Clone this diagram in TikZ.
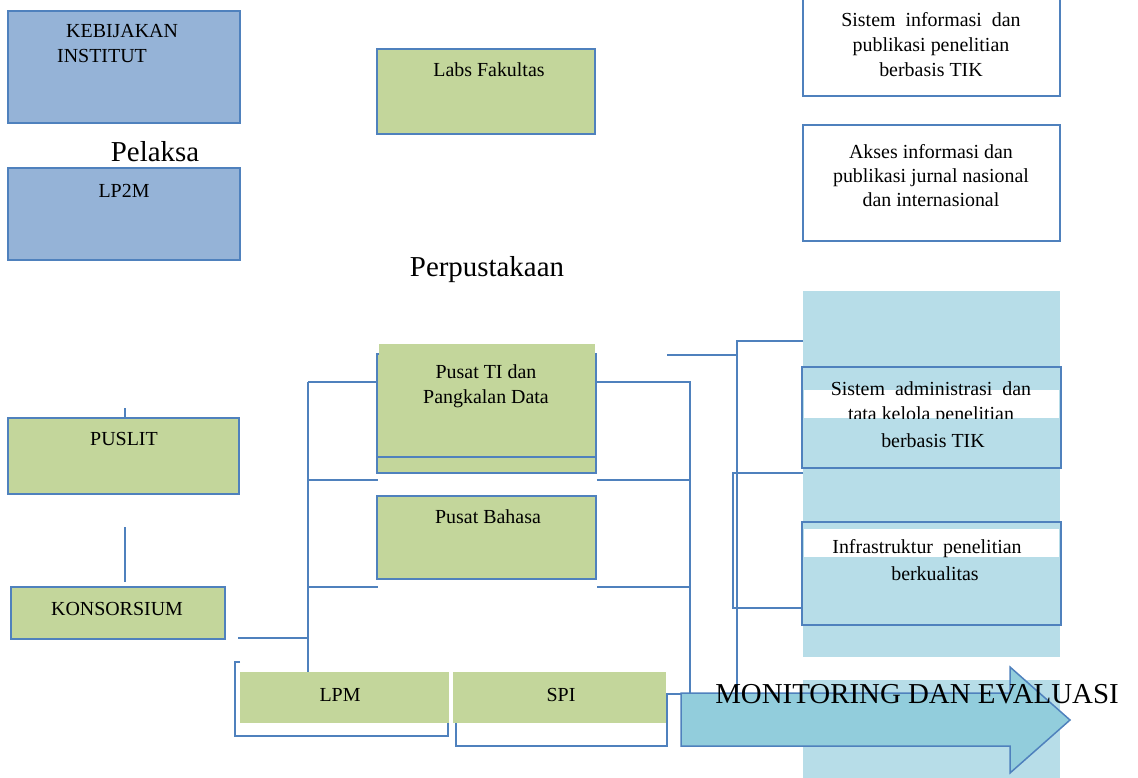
\documentclass[tikz,border=0pt]{standalone}
\usepackage{fontspec}
\setmainfont{Liberation Serif}
\definecolor{bdr}{HTML}{4F81BD}
\definecolor{bfill}{HTML}{95B3D7}
\definecolor{gfill}{HTML}{C3D69B}
\definecolor{lbfill}{HTML}{B7DDE8}
\definecolor{arrfill}{HTML}{92CDDC}
\tikzset{
 box/.style={draw=bdr, line width=1.5bp, inner sep=0pt, outer sep=0pt},
 bluebox/.style={box, fill=bfill},
 greenbox/.style={box, fill=gfill},
 plaingreen/.style={fill=gfill, inner sep=0pt, outer sep=0pt},
 whitebox/.style={box, fill=white},
 lightbox/.style={box, fill=lbfill},
 conn/.style={draw=bdr, line width=1.5bp},
 txt/.style={inner sep=0pt, anchor=base, font=\fontsize{20}{24}\selectfont},
 bigtxt/.style={inner sep=0pt, anchor=base, font=\fontsize{29}{34}\selectfont},
}
\begin{document}
\begin{tikzpicture}[x=1bp,y=-1bp]
\useasboundingbox (0,0) rectangle (1138,778);
\clip (0,0) rectangle (1138,778);
% light blue background column
\fill[lbfill] (803,291) rectangle (1060,657);
\fill[lbfill] (803,680) rectangle (1060,778);
% boxes
\node[bluebox, minimum width=232bp, minimum height=112bp] (keb) at (124,67) {};
\node[bluebox, minimum width=232bp, minimum height=92bp] (lp2m) at (124,214) {};
\node[greenbox, minimum width=218bp, minimum height=85bp] (labs) at (486,91.5) {};
\node[whitebox, minimum width=257bp, minimum height=99bp] (sisinfo) at (931.5,46.5) {};
\node[whitebox, minimum width=257bp, minimum height=116bp] (akses) at (931.5,183) {};
\node[lightbox, minimum width=259bp, minimum height=101bp] (sisadm) at (931.5,417.5) {};
\fill[white] (804,390) rectangle (1059,418);
\node[lightbox, minimum width=259bp, minimum height=103bp] (infra) at (931.5,573.5) {};
\fill[white] (804,529) rectangle (1059,557);
\node[greenbox, minimum width=231bp, minimum height=76bp] (puslit) at (123.5,456) {};
\node[greenbox, minimum width=214bp, minimum height=52bp] (konsor) at (118,613) {};
\node[greenbox, minimum width=219bp, minimum height=119bp] (pusatti) at (486.5,413.5) {};
\fill[gfill] (378.5,344) rectangle (594.5,457);
\draw[conn] (377,457) -- (596,457);
\node[greenbox, minimum width=219bp, minimum height=83bp] (bahasa) at (486.5,537.5) {};
\node[plaingreen, minimum width=209bp, minimum height=51bp] (lpm) at (344.5,697.5) {};
\node[plaingreen, minimum width=213bp, minimum height=51bp] (spi) at (559.5,697.5) {};
% connectors
\coordinate (c1) at (125,527);
\coordinate (c2) at (125,582);
\coordinate (k1) at (238,638);
\coordinate (vL1) at (308,382);
\coordinate (vL2) at (308,480);
\coordinate (vL3) at (308,587);
\coordinate (vL4) at (308,638);
\coordinate (hL1) at (377,382);
\coordinate (hL2) at (378,480);
\coordinate (hL3) at (378,587);
\coordinate (hR1) at (596,382);
\coordinate (hR2) at (597,480);
\coordinate (hR3) at (597,587);
\coordinate (vR1) at (690,382);
\coordinate (vR2) at (690,480);
\coordinate (vR3) at (690,587);
\coordinate (vR4) at (690,693);
\coordinate (m1) at (667,355);
\coordinate (m2) at (737,355);
\coordinate (m3) at (737,341);
\coordinate (m4) at (803,341);
\coordinate (m5) at (737,693);
\coordinate (b1) at (803,473);
\coordinate (b2) at (733,473);
\coordinate (b3) at (733,608);
\coordinate (b4) at (803,608);
\coordinate (arrL) at (681,694);
\draw[conn] ([xshift=1.5bp]puslit.north) -- ++(0,-10);
\draw[conn] (c1) -- (c2);
\draw[conn] (k1) -- (vL4);
\draw[conn] (vL1) -- (vL1 |- lpm.north);
\draw[conn] (vL1) -- (hL1);
\draw[conn] (vL2) -- (hL2);
\draw[conn] (vL3) -- (hL3);
\draw[conn] (hR1) -- (vR1) -- (vR4);
\draw[conn] (hR2) -- (vR2);
\draw[conn] (hR3) -- (vR3);
\draw[conn] (m1) -- (m2);
\draw[conn] (m4) -- (m3) -- (m5);
\draw[conn] (b1) -- (b2) -- (b3) -- (b4);
\draw[conn] ([yshift=10bp]lpm.north west) -- ++(-5,0) |- (448,736) -- (448,723);
\draw[conn] (456,723) -- (456,746) -- (667,746) -- (667,694) -- (arrL);
% arrow
\draw[draw=bdr, line width=1.5bp, fill=arrfill] (681,693) -- (1010,693) -- (1010,667) -- (1070,720) -- (1010,773) -- (1010,746) -- (681,746) -- cycle;
% texts
\node[txt, anchor=base west] (tkeb1) at (66,38) {KEBIJAKAN};
\node[txt, anchor=base west] (tkeb2) at (57,63) {INSTITUT};
\node[bigtxt] (tpel) at (155,161) {Pelaksa};
\node[txt] (tlp2m) at (124,197) {LP2M};
\node[txt] (tlabs) at (489,77) {Labs Fakultas};
\node[txt] (ts1) at (931,27) {Sistem\ \ informasi\ \ dan};
\node[txt] (ts2) at (931,52) {publikasi penelitian};
\node[txt] (ts3) at (931,77) {berbasis TIK};
\node[txt] (ta1) at (931,158) {Akses informasi dan};
\node[txt] (ta2) at (931,182) {publikasi jurnal nasional};
\node[txt] (ta3) at (931,206) {dan internasional};
\node[bigtxt] (tperp) at (487,276) {Perpustakaan};
\node[txt] (tpti1) at (486,378) {Pusat TI dan};
\node[txt] (tpti2) at (486,403) {Pangkalan Data};
\node[txt] (tbah) at (488,523) {Pusat Bahasa};
\node[txt] (tsa1) at (931,395) {Sistem\ \ administrasi\ \ dan};
\begin{scope}
\clip (0,0) rectangle (1138,418.5);
\node[txt] (tsa2) at (931,420) {tata kelola penelitian};
\end{scope}
\node[txt] (tsa3) at (933,447) {berbasis TIK};
\node[txt] (tin1) at (927,553) {Infrastruktur\ \ penelitian};
\node[txt] (tin2) at (935,580) {berkualitas};
\node[txt] (tpus) at (124,445) {PUSLIT};
\node[txt] (tkon) at (117,615) {KONSORSIUM};
\node[txt] (tlpm) at (340,701) {LPM};
\node[txt] (tspi) at (561,701) {SPI};
\node[bigtxt] (tmon) at (917,703) {MONITORING DAN EVALUASI};
\end{tikzpicture}
\end{document}
